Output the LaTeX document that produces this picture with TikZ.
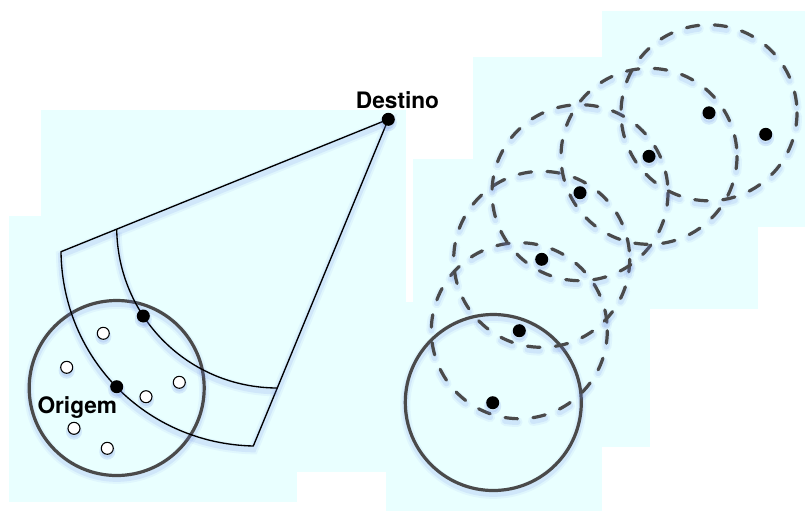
\documentclass[tikz,border=0pt]{standalone}
\usepackage{fontspec}
\setmainfont{TeX Gyre Heros}
\definecolor{bgcyan}{RGB}{233,255,255}
\definecolor{glowc}{RGB}{100,130,230}
\definecolor{circgray}{RGB}{74,74,74}
\begin{document}
\begin{tikzpicture}[x=0.75pt,y=-0.75pt,
  bgbox/.style={fill=bgcyan,draw=none},
  glowA/.style={preaction={draw=glowc,line width=7.5pt,opacity=0.07,transform canvas={yshift=-2.5pt}},
                preaction={draw=glowc,line width=4.5pt,opacity=0.12,transform canvas={yshift=-2.5pt}}},
  glowD/.style={preaction={draw=glowc,line width=7.5pt,opacity=0.08,line cap=round,dash pattern=on 9.4pt off 11.6pt,transform canvas={yshift=-2.5pt}},
                preaction={draw=glowc,line width=4.5pt,opacity=0.13,line cap=round,dash pattern=on 9.4pt off 11.6pt,transform canvas={yshift=-2.5pt}}},
  sect/.style={glowA,draw=black,line width=1pt,line join=round},
  solidcirc/.style={glowA,draw=circgray,line width=2.4pt},
  dashcirc/.style={glowD,draw=circgray,line width=2.4pt,line cap=round,dash pattern=on 9.4pt off 11.6pt},
  bdot/.style={circle,fill=black,minimum size=9.75pt,inner sep=0pt,
               preaction={fill=glowc,draw=glowc,line width=3pt,opacity=0.16,transform canvas={yshift=-2.5pt}}},
  wdot/.style={circle,fill=white,draw=black,line width=0.8pt,minimum size=9pt,inner sep=0pt,
               preaction={fill=glowc,draw=glowc,line width=3pt,opacity=0.16,transform canvas={yshift=-2.5pt}}},
  lab/.style={inner sep=0pt,font=\bfseries\fontsize{17}{20}\selectfont}
]
\useasboundingbox (0,0) rectangle (805,511);
% background panels
\fill[bgbox] (41,110) rectangle (406,472);
\fill[bgbox] (9,216) rectangle (297,502);
\fill[bgbox] (413,159) rectangle (650,447);
\fill[bgbox] (473,57) rectangle (758,309);
\fill[bgbox] (602,11) rectangle (805,227);
\fill[bgbox] (386,302) rectangle (602,511);

% ---------- left figure ----------
\coordinate (dpos) at (388.3,119.3);
\coordinate (o1) at (61,251.7);
\coordinate (o2) at (253.3,446);
\coordinate (i1) at (116.7,229.2);
\coordinate (i2) at (277.3,388);
\draw[solidcirc] (116.7,388) circle[radius=87.5];
\draw[sect] (dpos) -- (o1) to[bend right=44] (o2) -- cycle;
\draw[sect] (i1) to[bend right=44.5] (i2);

\node[bdot] (dest) at (dpos) {};
\node[bdot] (b1) at (143.3,316) {};
\node[bdot] (b2) at (116.7,386.7) {};
\node[wdot] (w1) at (103.3,333.3) {};
\node[wdot] (w2) at (66.7,367.3) {};
\node[wdot] (w3) at (179.3,382.3) {};
\node[wdot] (w4) at (146,396.7) {};
\node[wdot] (w5) at (74,428.3) {};
\node[wdot] (w6) at (107.3,448.3) {};
\node[lab,anchor=base] (ldest) at (397.5,108.3) {Destino};
\node[lab,anchor=base] (lorig) at (77.3,413.3) {Origem};

% ---------- right figure ----------
\coordinate (p1) at (492.7,402.7);
\coordinate (p2) at (519.3,330.7);
\coordinate (p3) at (541.7,259.3);
\coordinate (p4) at (580,192.7);
\coordinate (p5) at (649,156.3);
\coordinate (p6) at (709,112.8);
\coordinate (p7) at (765.7,134.3);
\draw[solidcirc] (493.3,402.5) circle[radius=88];
\foreach \c in {p2,p3,p4,p5,p6}{
  \draw[dashcirc] (\c) circle[radius=88];
}
\foreach \c in {p1,p2,p3,p4,p5,p6,p7}{
  \node[bdot] (n\c) at (\c) {};
}
\end{tikzpicture}
\end{document}
